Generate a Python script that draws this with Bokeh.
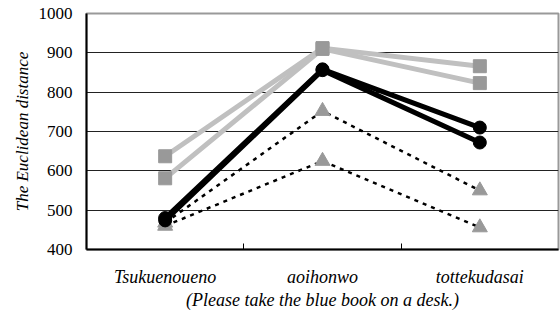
from bokeh.plotting import figure
from bokeh.models import Range1d, FixedTicker
from bokeh.embed import file_html
from bokeh.resources import INLINE

categories = ["Tsukuenoueno", "aoihonwo", "tottekudasai"]
sq_a = [637, 912, 866]
sq_b = [581, 910, 823]
ci_a = [480, 858, 710]
ci_b = [474, 856, 672]
tr_a = [468, 752, 550]
tr_b = [460, 625, 456]
y_ticks = [400, 500, 600, 700, 800, 900, 1000]
x_title = "(Please take the blue book on a desk.)"
y_title = "The Euclidean distance"

xs = [i + 0.5 for i in range(len(categories))]
FONT = "serif"

p = figure(width=560, height=312, output_backend="svg", toolbar_location=None,
           x_range=Range1d(0, 3), y_range=Range1d(400, 1000),
           min_border_left=86, min_border_right=2, min_border_top=13, min_border_bottom=59)
p.outline_line_color = "#999999"
p.outline_line_width = 2
p.background_fill_color = "white"
p.border_fill_color = "white"

p.xgrid.visible = False
p.ygrid.grid_line_color = "#222222"
p.ygrid.grid_line_width = 1

p.yaxis.ticker = FixedTicker(ticks=y_ticks)
p.yaxis.axis_line_color = "black"
p.yaxis.axis_line_width = 2
p.yaxis.major_tick_line_color = None
p.yaxis.major_tick_out = 0
p.yaxis.major_tick_in = 0
p.yaxis.minor_tick_line_color = None
p.yaxis.major_label_text_font = FONT
p.yaxis.major_label_text_font_size = "17px"
p.yaxis.major_label_text_color = "black"
p.yaxis.major_label_standoff = 14
p.yaxis.axis_label = y_title
p.yaxis.axis_label_text_font = FONT
p.yaxis.axis_label_text_font_style = "italic"
p.yaxis.axis_label_text_font_size = "17px"
p.yaxis.axis_label_text_color = "black"
p.yaxis.axis_label_standoff = 4

p.xaxis.ticker = FixedTicker(ticks=xs, minor_ticks=[1, 2])
p.xaxis.major_label_overrides = {x: c for x, c in zip(xs, categories)}
p.xaxis.axis_line_color = "black"
p.xaxis.axis_line_width = 2
p.xaxis.major_tick_line_color = None
p.xaxis.major_tick_out = 0
p.xaxis.major_tick_in = 0
p.xaxis.minor_tick_line_color = "black"
p.xaxis.minor_tick_in = 6
p.xaxis.minor_tick_out = 0
p.xaxis.major_label_text_font = FONT
p.xaxis.major_label_text_font_style = "italic"
p.xaxis.major_label_text_font_size = "18px"
p.xaxis.major_label_text_color = "black"
p.xaxis.major_label_standoff = 17
p.xaxis.axis_label = x_title
p.xaxis.axis_label_text_font = FONT
p.xaxis.axis_label_text_font_style = "italic"
p.xaxis.axis_label_text_font_size = "18px"
p.xaxis.axis_label_text_color = "black"
p.xaxis.axis_label_standoff = 0

for ys in (sq_a, sq_b):
    p.line(xs, ys, line_color="#c0c0c0", line_width=5)
    p.scatter(xs, ys, marker="square", size=13, fill_color="#999999", line_color="#999999")

for ys in (tr_a, tr_b):
    p.line(xs, ys, line_color="black", line_width=2.5, line_dash="4 5")
    p.scatter(xs, ys, marker="triangle", size=15, fill_color="#999999", line_color="#999999")

for ys in (ci_a, ci_b):
    p.line(xs, ys, line_color="black", line_width=5)
    p.scatter(xs, ys, marker="circle", size=13, fill_color="black", line_color="black")

open("out.html", "w").write(file_html(p, INLINE))
